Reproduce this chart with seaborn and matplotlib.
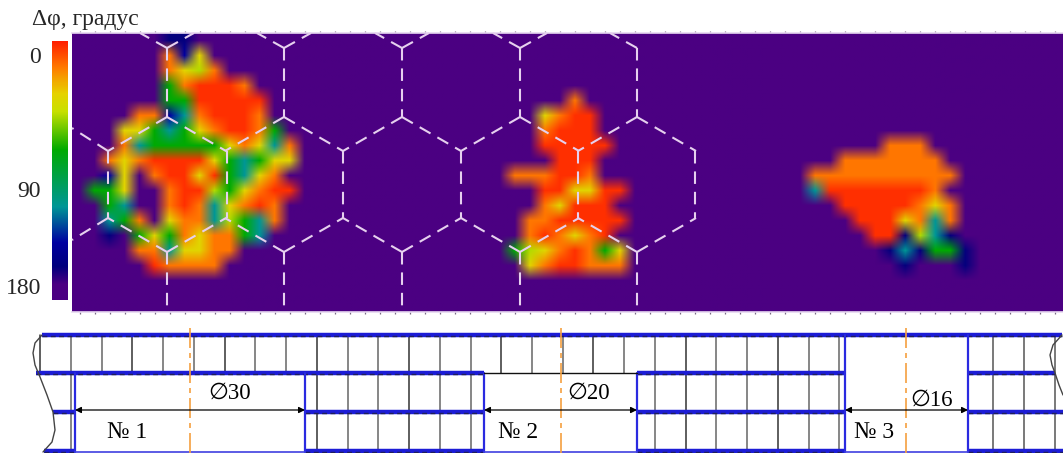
import numpy as np
import matplotlib
matplotlib.use("Agg")
import matplotlib.pyplot as plt
from matplotlib.colors import LinearSegmentedColormap
import seaborn as sns

W, H = 1063, 453
N_COLS, N_ROWS = 66, 19

CODES = {'.': 180, 'r': 4, 'o': 18, 'y': 38, 'l': 52, 'g': 76, 't': 115, 'b': 140, 'n': 157, 'f': 170}

BLOB1 = ["......nn", "......oby", "......oylo", "......gorrro", "......ggrrrrr",
         "....oobtorrro", "...yygtgyorrog", "...otgggggyoyto", "..oyorrrrygtgyy",
         "..by.orryrgtyo", ".ggy..orrlgyorr", "..gt..orotyoro", "..tgo.yootlgto",
         "..n.gygoyoogt", "....ootyyoo", ".....roooo"]
BLOB2 = [".....o", "...yorr", "...orrr", "...rrrrr", "....rrr", ".ooorro", "...rryyrr",
         "...oyrrr", "..oorrrrr", "..oroyor", ".glyorogy", "..yorrooo"]
BLOB3 = [".....ooo", "..ooooooo", "oooooooooo", "trrrrrrro", "..rrrrroyo",
         "...rrryoto", "....rrnltn", ".....ntnggn", "......n...n"]
BLOB1_START = (0, 0)
BLOB2_START = (4, 28)
BLOB3_START = (7, 49)
SPOTS = [(15, 37), (17, 35), (10, 42), (12, 49)]

COLORBAR_STOPS = [(0.0, '#ff1e00'), (0.10, '#ff7800'), (0.20, '#e6d200'), (0.27, '#c8e000'),
                  (0.42, '#00aa00'), (0.64, '#009696'), (0.78, '#0000a0'), (0.87, '#00007d'),
                  (0.94, '#4b0082'), (1.0, '#4b0082')]
COLORBAR_TICKS = [10, 103, 170]
COLORBAR_LABELS = ['0', '90', '180']

HEX_EDGES = []
for x in [167, 284, 402, 520, 637]:
    HEX_EDGES += [((x, 48), (x, 117)), ((x, 48), (x - 27, 33))]
    if x != 637:
        HEX_EDGES += [((x, 48), (x + 27, 33))]
    HEX_EDGES += [((x, 252), (x, 312)), ((x, 117), (x - 59, 151)), ((x, 117), (x + 59, 151)),
                  ((x, 252), (x - 59, 218)), ((x, 252), (x + 59, 218))]
for x in [108, 227, 343, 461, 578, 695]:
    HEX_EDGES += [((x, 151), (x, 218))]
HEX_EDGES += [((108, 151), (72, 128)), ((108, 218), (72, 240))]

BAND_Y = [335, 373, 412, 451]
BAND_SPANS = [[(42, 1062)],
              [(36, 484), (637, 845), (968, 1055)],
              [(53, 75), (305, 484), (637, 845), (968, 1063)],
              [(44, 75), (305, 484), (637, 845), (968, 1063)]]
HOLE_EDGES = [75, 305, 484, 637, 845, 968]
HOLE_SPANS = [(75, 305, 373), (484, 637, 373), (845, 968, 335)]
RIB_START, RIB_STEP, RIB_COUNT = 40.3, 30.73, 27
RIGHT_RIBS = [993, 1024, 1055]
CENTER_LINES = [190, 561, 906]
DIAMETERS = [(230, 393, '∅30'), (589, 393, '∅20'), (932, 400, '∅16')]
HOLE_NAMES = [(127, 432, '№ 1'), (518, 432, '№ 2'), (874, 432, '№ 3')]
LEFT_CURVE_X = [42, 35, 33, 35, 40, 47, 53, 55, 52, 43]
LEFT_CURVE_Y = [335, 343, 353, 365, 377, 395, 412, 430, 442, 452]
RIGHT_CURVE_X = [1062, 1053, 1050, 1052, 1055, 1059, 1063]
RIGHT_CURVE_Y = [335, 345, 355, 365, 373, 385, 395]

sns.set_style("white")
plt.rcParams['font.family'] = ['Liberation Serif', 'DejaVu Sans']

cells = np.full((N_ROWS, N_COLS), 180.0)
for blob, (r0, c0) in [(BLOB1, BLOB1_START), (BLOB2, BLOB2_START), (BLOB3, BLOB3_START)]:
    for i, row in enumerate(blob):
        for j, ch in enumerate(row):
            if ch != '.':
                cells[r0 + i, c0 + j] = CODES[ch]
for r, c in SPOTS:
    cells[r, c] = CODES['f']

cmap = LinearSegmentedColormap.from_list('phase', COLORBAR_STOPS)

fig = plt.figure(figsize=(W / 100, H / 100), dpi=100, facecolor='white')


def px_axes(x, y, w, h):
    return fig.add_axes([x / W, 1 - (y + h) / H, w / W, h / H])


ax = px_axes(72, 33, 991, 279)
cax = px_axes(52, 41, 16, 259)
sns.heatmap(cells, ax=ax, cbar_ax=cax, cmap=cmap, vmin=0, vmax=180,
            xticklabels=False, yticklabels=False)
ax.imshow(cells, cmap=cmap, vmin=0, vmax=180, extent=(0, N_COLS, N_ROWS, 0), aspect='auto',
          interpolation='bilinear', interpolation_stage='rgba', zorder=2)
ax.set_xlim(0, N_COLS)
ax.set_ylim(18.6, 0)
ax.set_xticks(np.arange(0.5, N_COLS))
ax.tick_params(axis='x', direction='inout', length=3, width=0.9, color='#7a6a85',
               top=True, bottom=True, labelbottom=False)
for name, spine in ax.spines.items():
    spine.set_visible(name in ('top', 'bottom'))
    spine.set_color('#e6d8f0')
    spine.set_linewidth(1.2)
    spine.set_zorder(3)

cax.invert_yaxis()
cax.yaxis.set_ticks_position('left')
cax.set_yticks(COLORBAR_TICKS)
cax.set_yticklabels(COLORBAR_LABELS, fontsize=17)
cax.tick_params(axis='y', length=0, pad=8)
for spine in cax.spines.values():
    spine.set_visible(False)

top = fig.add_axes([0, 0, 1, 1], facecolor='none')
top.set_xlim(0, W)
top.set_ylim(H, 0)
top.axis('off')

for (x0, y0), (x1, y1) in HEX_EDGES:
    top.plot([x0, x1], [y0, y1], color='#e6d0ee', lw=1.5, linestyle=(0, (6, 3.8)),
             solid_capstyle='butt')

top.text(32, 19, 'Δφ, градус', fontsize=17, va='center', ha='left')

for i in range(RIB_COUNT):
    x = RIB_START + i * RIB_STEP
    c = '#333333' if i % 3 == 0 else '#666666'
    top.plot([x, x], [335, 373], color=c, lw=1.1)
    if x > 60:
        for x0, x1, _ in HOLE_SPANS:
            if x0 <= x <= x1:
                break
        else:
            top.plot([x, x], [373, 451], color=c, lw=1.1)
for x in RIGHT_RIBS:
    top.plot([x, x], [335, 451], color='#555555', lw=1.1)

for y, spans in zip(BAND_Y, BAND_SPANS):
    for x0, x1 in spans:
        top.plot([x0, x1], [y, y], color='#1c1cd6', lw=3.2, solid_capstyle='butt')
        top.plot([x0, x1], [y + 0.8, y + 0.8], color='#20205a', lw=1.0,
                 linestyle=(0, (3.5, 2.5)))

for x in HOLE_EDGES:
    y_top = 335 if x in (845, 968) else 373
    top.plot([x, x], [y_top, 452], color='#2a2ae0', lw=1.6)
for x0, x1, y_top in HOLE_SPANS:
    top.plot([x0, x1], [452, 452], color='#4040e0', lw=1.2)
    if y_top == 373 and x0 == 484:
        top.plot([x0, x1], [373, 373], color='#111111', lw=1)
    top.annotate('', xy=(x0, 410), xytext=(x1, 410),
                 arrowprops=dict(arrowstyle='<|-|>', color='black', lw=0.9,
                                 shrinkA=0, shrinkB=0, mutation_scale=9))

top.plot(LEFT_CURVE_X, LEFT_CURVE_Y, color='#444444', lw=1)
top.plot(RIGHT_CURVE_X, RIGHT_CURVE_Y, color='#444444', lw=1)

for x in CENTER_LINES:
    top.plot([x, x], [328, 453], color='#f5a040', lw=1.2, linestyle=(0, (12, 3, 3, 3)))

for x, y, label in DIAMETERS:
    top.text(x, y, label, fontsize=16.5, ha='center', va='center', color='black')
for x, y, label in HOLE_NAMES:
    top.text(x, y, label, fontsize=17, ha='center', va='center', color='black')

fig.savefig('out.png', dpi=100)
